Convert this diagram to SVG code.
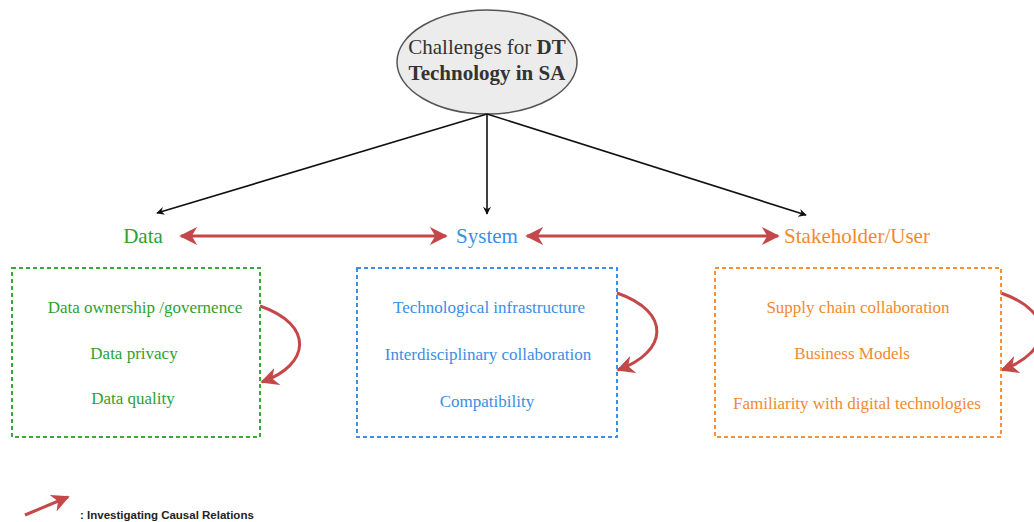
<svg xmlns="http://www.w3.org/2000/svg" width="1034" height="522" viewBox="0 0 1034 522">
<style>
.serif{font-family:"Liberation Serif","Times New Roman",serif;text-anchor:middle}
.g{fill:#2fa12f}.b{fill:#3a8ee6}.o{fill:#f08a30}
.item{font-size:17px}
.cat{font-size:21px}
.blk{stroke:#111;stroke-width:1.6;fill:none}
.red{stroke:#c4484a;stroke-width:3;fill:none}
.box{fill:none;stroke-width:2;stroke-dasharray:4,3}
</style>
<defs>
<marker id="ab" viewBox="0 0 10 10" refX="9" refY="5" markerWidth="8" markerHeight="8" orient="auto-start-reverse" markerUnits="userSpaceOnUse">
<path d="M0,0 L10,5 L0,10 L3,5 Z" fill="#111"/>
</marker>
<marker id="ar" viewBox="0 0 10 10" refX="9" refY="5" markerWidth="18" markerHeight="18" orient="auto-start-reverse" markerUnits="userSpaceOnUse">
<path d="M0,0 L10,5 L0,10 L3,5 Z" fill="#c4484a"/>
</marker>
</defs>
<rect width="1034" height="522" fill="#fff"/>
<g id="root">
<ellipse cx="487" cy="62" rx="90" ry="52" fill="#ececec" stroke="#555" stroke-width="1.5"/>
<text class="serif" x="487" y="54" font-size="21" fill="#333">Challenges for <tspan font-weight="bold">DT</tspan></text>
<text class="serif" x="487" y="80" font-size="21" font-weight="bold" fill="#333">Technology in SA</text>
</g>
<g id="connectors">
<line class="blk" x1="487" y1="114" x2="157" y2="213" marker-end="url(#ab)"/>
<line class="blk" x1="487" y1="114" x2="487" y2="214" marker-end="url(#ab)"/>
<line class="blk" x1="487" y1="114" x2="806" y2="215" marker-end="url(#ab)"/>
<line class="red" x1="181" y1="236" x2="446" y2="236" marker-start="url(#ar)" marker-end="url(#ar)"/>
<line class="red" x1="527" y1="236" x2="778" y2="236" marker-start="url(#ar)" marker-end="url(#ar)"/>
<path class="red" d="M260,306 C315,325 310,365 262,382" marker-end="url(#ar)"/>
<path class="red" d="M617,293 C672,312 668,352 618,370" marker-end="url(#ar)"/>
<path class="red" d="M1001,293 C1056,312 1052,352 1002,370" marker-end="url(#ar)"/>
</g>
<g id="data">
<text class="serif cat g" x="143" y="243">Data</text>
<rect class="box" x="12" y="268" width="248" height="169" stroke="#3aa93a"/>
<text class="serif item g" x="145" y="313">Data ownership /governence</text>
<text class="serif item g" x="134" y="359">Data privacy</text>
<text class="serif item g" x="133" y="404">Data quality</text>
</g>
<g id="system">
<text class="serif cat b" x="487" y="243">System</text>
<rect class="box" x="357" y="268" width="260" height="169" stroke="#3d8ee6"/>
<text class="serif item b" x="489" y="313">Technological infrastructure</text>
<text class="serif item b" x="488" y="360">Interdisciplinary collaboration</text>
<text class="serif item b" x="487" y="407">Compatibility</text>
</g>
<g id="stakeholder">
<text class="serif cat o" x="857" y="243">Stakeholder/User</text>
<rect class="box" x="715" y="268" width="286" height="169" stroke="#f4923a"/>
<text class="serif item o" x="858" y="313">Supply chain collaboration</text>
<text class="serif item o" x="852" y="359">Business Models</text>
<text class="serif item o" x="857" y="409">Familiarity with digital technologies</text>
</g>
<g id="legend">
<line class="red" x1="25" y1="515" x2="68" y2="497" stroke-width="2.5" marker-end="url(#ar)"/>
<text x="80" y="519" font-family="Liberation Sans,Arial,sans-serif" font-size="11.5" font-weight="bold" fill="#222">: Investigating Causal Relations</text>
</g>
</svg>
